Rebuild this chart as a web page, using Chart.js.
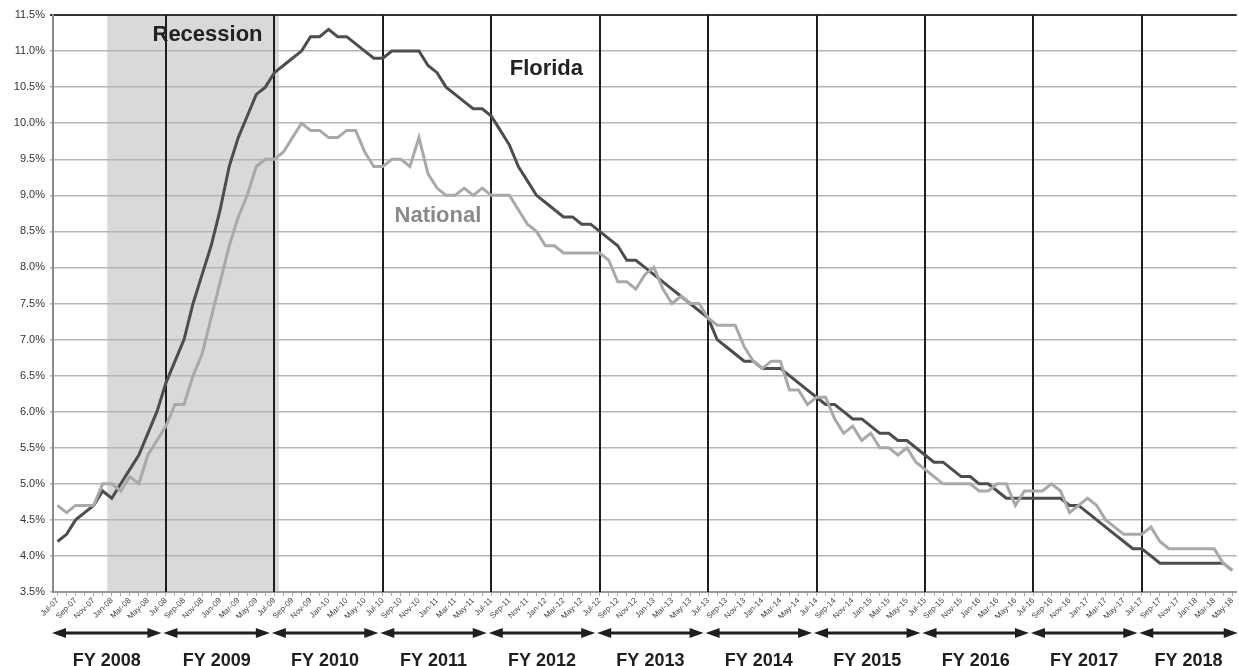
<!DOCTYPE html>
<html>
<head>
<meta charset="utf-8">
<script src="https://cdn.jsdelivr.net/npm/chart.js@4"></script>
<style>
  html, body { margin: 0; padding: 0; background: #fff; overflow: hidden; }
</style>
</head>
<body>
<canvas id="unemploymentChart" width="1239" height="666"></canvas>
<script>
// month categories, Jul-07 .. May-18
var monthNames = ['Jan','Feb','Mar','Apr','May','Jun','Jul','Aug','Sep','Oct','Nov','Dec'];
var months = [];
for (var n = 0; n < 131; n++) {
  var m = (6 + n) % 12;
  var yr = 7 + Math.floor((6 + n) / 12);
  months.push(monthNames[m] + '-' + (yr < 10 ? '0' + yr : yr));
}

var floridaRate = [
  4.2, 4.3, 4.5, 4.6, 4.7, 4.9, 4.8, 5.0, 5.2, 5.4, 5.7, 6.0,
  6.4, 6.7, 7.0, 7.5, 7.9, 8.3, 8.8, 9.4, 9.8, 10.1, 10.4, 10.5,
  10.7, 10.8, 10.9, 11.0, 11.2, 11.2, 11.3, 11.2, 11.2, 11.1, 11.0, 10.9,
  10.9, 11.0, 11.0, 11.0, 11.0, 10.8, 10.7, 10.5, 10.4, 10.3, 10.2, 10.2,
  10.1, 9.9, 9.7, 9.4, 9.2, 9.0, 8.9, 8.8, 8.7, 8.7, 8.6, 8.6,
  8.5, 8.4, 8.3, 8.1, 8.1, 8.0, 7.9, 7.8, 7.7, 7.6, 7.5, 7.4,
  7.3, 7.0, 6.9, 6.8, 6.7, 6.7, 6.6, 6.6, 6.6, 6.5, 6.4, 6.3,
  6.2, 6.1, 6.1, 6.0, 5.9, 5.9, 5.8, 5.7, 5.7, 5.6, 5.6, 5.5,
  5.4, 5.3, 5.3, 5.2, 5.1, 5.1, 5.0, 5.0, 4.9, 4.8, 4.8, 4.8,
  4.8, 4.8, 4.8, 4.8, 4.7, 4.7, 4.6, 4.5, 4.4, 4.3, 4.2, 4.1,
  4.1, 4.0, 3.9, 3.9, 3.9, 3.9, 3.9, 3.9, 3.9, 3.9, 3.8
];

var nationalRate = [
  4.7, 4.6, 4.7, 4.7, 4.7, 5.0, 5.0, 4.9, 5.1, 5.0, 5.4, 5.6,
  5.8, 6.1, 6.1, 6.5, 6.8, 7.3, 7.8, 8.3, 8.7, 9.0, 9.4, 9.5,
  9.5, 9.6, 9.8, 10.0, 9.9, 9.9, 9.8, 9.8, 9.9, 9.9, 9.6, 9.4,
  9.4, 9.5, 9.5, 9.4, 9.8, 9.3, 9.1, 9.0, 9.0, 9.1, 9.0, 9.1,
  9.0, 9.0, 9.0, 8.8, 8.6, 8.5, 8.3, 8.3, 8.2, 8.2, 8.2, 8.2,
  8.2, 8.1, 7.8, 7.8, 7.7, 7.9, 8.0, 7.7, 7.5, 7.6, 7.5, 7.5,
  7.3, 7.2, 7.2, 7.2, 6.9, 6.7, 6.6, 6.7, 6.7, 6.3, 6.3, 6.1,
  6.2, 6.2, 5.9, 5.7, 5.8, 5.6, 5.7, 5.5, 5.5, 5.4, 5.5, 5.3,
  5.2, 5.1, 5.0, 5.0, 5.0, 5.0, 4.9, 4.9, 5.0, 5.0, 4.7, 4.9,
  4.9, 4.9, 5.0, 4.9, 4.6, 4.7, 4.8, 4.7, 4.5, 4.4, 4.3, 4.3,
  4.3, 4.4, 4.2, 4.1, 4.1, 4.1, 4.1, 4.1, 4.1, 3.9, 3.8
];

var fiscalYears = ['FY 2008','FY 2009','FY 2010','FY 2011','FY 2012','FY 2013',
                   'FY 2014','FY 2015','FY 2016','FY 2017','FY 2018'];
var fiscalYearStarts = ['Jul-07','Jul-08','Jul-09','Jul-10','Jul-11','Jul-12',
                        'Jul-13','Jul-14','Jul-15','Jul-16','Jul-17'];
var recessionMonths = ['Jan-08', 'Jul-09'];

var fontFamily = '"Liberation Sans", Arial, sans-serif';

// text notes placed in data coordinates (category index, percent)
var notes = [
  { text: 'Recession', at: 16.6, value: 11.22, color: '#222' },
  { text: 'Florida', at: 54.1, value: 10.75, color: '#222' },
  { text: 'National', at: 42.1, value: 8.72, color: '#8a8a8a' }
];

var decorations = {
  id: 'decorations',
  beforeDraw: function(chart) {
    var ctx = chart.ctx, area = chart.chartArea, x = chart.scales.x;
    var half = (x.getPixelForValue(1) - x.getPixelForValue(0)) / 2;
    var a = x.getPixelForValue(months.indexOf(recessionMonths[0])) - half;
    var b = x.getPixelForValue(months.indexOf(recessionMonths[1])) + half;
    ctx.save();
    ctx.fillStyle = '#d9d9d9';
    ctx.fillRect(a, area.top, b - a, area.bottom - area.top);
    ctx.restore();
  },
  beforeDatasetsDraw: function(chart) {
    var ctx = chart.ctx, area = chart.chartArea, x = chart.scales.x;
    ctx.save();
    ctx.strokeStyle = '#1e1e1e';
    ctx.lineWidth = 2;
    for (var k = 1; k < fiscalYearStarts.length; k++) {
      var px = Math.round(x.getPixelForValue(months.indexOf(fiscalYearStarts[k])));
      ctx.beginPath();
      ctx.moveTo(px, area.top);
      ctx.lineTo(px, area.bottom);
      ctx.stroke();
    }
    ctx.restore();
  },
  afterDraw: function(chart) {
    var ctx = chart.ctx, area = chart.chartArea, x = chart.scales.x, y = chart.scales.y;
    ctx.save();
    // annotations
    ctx.font = 'bold 22px ' + fontFamily;
    ctx.textAlign = 'center';
    ctx.textBaseline = 'middle';
    notes.forEach(function(nt) {
      ctx.fillStyle = nt.color;
      ctx.fillText(nt.text, x.getPixelForValue(nt.at), y.getPixelForValue(nt.value));
    });
    // fiscal year arrows and labels
    var arrowY = area.bottom + 41;
    ctx.fillStyle = '#1e1e1e';
    ctx.strokeStyle = '#1e1e1e';
    ctx.lineWidth = 3;
    ctx.font = 'bold 18px ' + fontFamily;
    ctx.textBaseline = 'alphabetic';
    for (var k = 0; k < fiscalYears.length; k++) {
      var s = k === 0 ? area.left - 1 :
        x.getPixelForValue(months.indexOf(fiscalYearStarts[k])) - 2.5;
      var e = k === fiscalYears.length - 1 ? area.right + 1 :
        x.getPixelForValue(months.indexOf(fiscalYearStarts[k + 1])) - 4.5;
      ctx.beginPath();
      ctx.moveTo(s + 10, arrowY);
      ctx.lineTo(e - 10, arrowY);
      ctx.stroke();
      ctx.beginPath();
      ctx.moveTo(s, arrowY);
      ctx.lineTo(s + 14, arrowY - 5);
      ctx.lineTo(s + 14, arrowY + 5);
      ctx.closePath();
      ctx.fill();
      ctx.beginPath();
      ctx.moveTo(e, arrowY);
      ctx.lineTo(e - 14, arrowY - 5);
      ctx.lineTo(e - 14, arrowY + 5);
      ctx.closePath();
      ctx.fill();
      ctx.fillText(fiscalYears[k], (s + e) / 2, area.bottom + 74);
    }
    ctx.restore();
  }
};

var chartContext = document.getElementById('unemploymentChart').getContext('2d');
var unemploymentChart = new Chart(chartContext, {
  type: 'line',
  data: {
    labels: months,
    datasets: [{
      label: 'Florida',
      data: floridaRate,
      borderColor: '#4d4d4d',
      borderWidth: 3,
      pointRadius: 0,
      tension: 0,
      order: 2
    }, {
      label: 'National',
      data: nationalRate,
      borderColor: '#a9a9a9',
      borderWidth: 3,
      pointRadius: 0,
      tension: 0,
      order: 1
    }]
  },
  options: {
    responsive: false,
    animation: false,
    layout: { padding: { left: 0, right: 2, top: 15, bottom: 48 } },
    plugins: {
      legend: { display: false },
      tooltip: { enabled: false }
    },
    scales: {
      x: {
        offset: true,
        afterFit: function(scale) { scale.height = 26; },
        grid: { drawOnChartArea: false, tickLength: 4, color: '#aaa' },
        border: { color: '#999', width: 2 },
        ticks: {
          autoSkip: false,
          maxRotation: 45,
          minRotation: 45,
          padding: 0,
          color: '#444',
          font: { family: fontFamily, size: 8 },
          callback: function(value, index) {
            return index % 2 === 0 ? months[index] : '';
          }
        }
      },
      y: {
        min: 3.5,
        max: 11.5,
        afterFit: function(scale) { scale.width = 53; },
        grid: {
          tickLength: 3,
          color: function(c) { return c.tick && c.tick.value === 11.5 ? '#333' : '#b5b5b5'; },
          lineWidth: function(c) { return c.tick && c.tick.value === 11.5 ? 2 : 1.5; }
        },
        border: { color: '#8a8a8a', width: 2 },
        ticks: {
          stepSize: 0.5,
          padding: 5,
          color: '#333',
          font: { family: fontFamily, size: 11 },
          callback: function(value) { return value.toFixed(1) + '%'; }
        }
      }
    }
  },
  plugins: [decorations]
});
</script>
</body>
</html>
